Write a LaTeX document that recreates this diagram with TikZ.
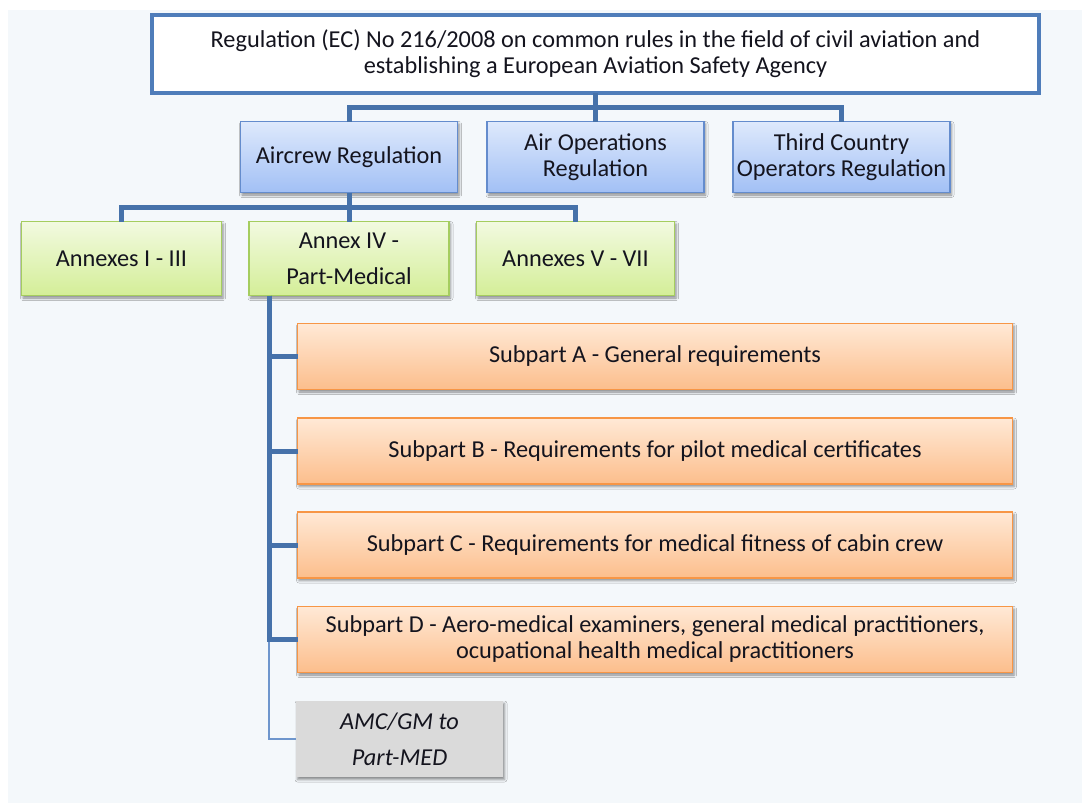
\documentclass[tikz,border=0pt]{standalone}
\usepackage{fontspec}
\setmainfont{Carlito}
\usetikzlibrary{shadows.blur,calc}
\definecolor{bgc}{RGB}{244,248,251}
\definecolor{lineblue}{RGB}{70,114,170}
\definecolor{thinblue}{RGB}{110,150,205}
\definecolor{topborder}{RGB}{79,125,186}
\definecolor{blueborder}{RGB}{100,140,205}
\definecolor{bluetop}{RGB}{222,233,252}
\definecolor{bluebot}{RGB}{162,192,245}
\definecolor{greenborder}{RGB}{165,205,95}
\definecolor{greentop}{RGB}{242,250,224}
\definecolor{greenbot}{RGB}{212,238,152}
\definecolor{orangeborder}{RGB}{247,150,70}
\definecolor{orangetop}{RGB}{255,233,214}
\definecolor{orangebot}{RGB}{252,190,140}
\definecolor{grayfill}{RGB}{218,218,218}
\definecolor{txt}{RGB}{20,20,30}
\tikzset{
  x=1pt,y=-1pt,
  base/.style={rectangle, inner sep=0pt, outer sep=0pt, align=center, text=txt,
    font=\fontsize{24.3}{26}\selectfont},
  shad/.style={blur shadow={shadow xshift=1.5pt, shadow yshift=-2.5pt, shadow blur radius=2.5pt, shadow opacity=45}},
  topbox/.style={base, draw=topborder, line width=4.5pt, fill=white},
  bluebox/.style={base, shad, draw=blueborder, line width=1.4pt, top color=bluetop, bottom color=bluebot},
  greenbox/.style={base, shad, draw=greenborder, line width=1.4pt, top color=greentop, bottom color=greenbot},
  orangebox/.style={base, shad, draw=orangeborder, line width=1.4pt, top color=orangetop, bottom color=orangebot},
  graybox/.style={base, shad, fill=grayfill, font=\fontsize{24.3}{36}\selectfont\itshape},
  conn/.style={draw=lineblue, line width=5pt, line join=miter},
  thinconn/.style={draw=thinblue, line width=1.8pt},
}
\begin{document}
\begin{tikzpicture}
\useasboundingbox (0,0) rectangle (1082,803);
\fill[white] (0,0) rectangle (1082,803);
\fill[bgc] (8,10) rectangle (1082,803);

\node[topbox, minimum width=887, minimum height=78] (top) at (595.5,54)
  {Regulation (EC) No 216/2008 on common rules in the field of civil aviation and\\establishing a European Aviation Safety Agency};

\node[bluebox, minimum width=217, minimum height=71] (air) at (349,157) {Aircrew Regulation};
\node[bluebox, minimum width=217, minimum height=71] (ops) at (595.5,157) {Air Operations\\Regulation};
\node[bluebox, minimum width=217, minimum height=71] (tc) at (841.5,157) {Third Country\\Operators Regulation};

\node[greenbox, minimum width=200, minimum height=74] (a13) at (121.5,258.5) {Annexes I - III};
\node[greenbox, minimum width=200, minimum height=74, font=\fontsize{24.3}{36}\selectfont] (a4) at (349,258.5) {Annex IV -\\Part-Medical};
\node[greenbox, minimum width=198, minimum height=74] (a57) at (575.5,258.5) {Annexes V - VII};

\node[orangebox, minimum width=715, minimum height=66] (sa) at (655,356.5) {Subpart A - General requirements};
\node[orangebox, minimum width=715, minimum height=66] (sb) at (655,451) {Subpart B - Requirements for pilot medical certificates};
\node[orangebox, minimum width=715, minimum height=66] (sc) at (655,545) {Subpart C - Requirements for medical fitness of cabin crew};
\node[orangebox, minimum width=715, minimum height=66] (sd) at (655,639.5) {Subpart D - Aero-medical examiners, general medical practitioners,\\ocupational health medical practitioners};

\node[graybox, minimum width=207, minimum height=76] (gm) at (399.5,739) {AMC/GM to\\Part-MED};

% connectors level 1
\draw[conn] (top.south) -- (ops.north);
\draw[conn] (air.north) -- ++(0,-14) -| (tc.north);
% connectors level 2
\draw[conn] (air.south) -- (a4.north);
\draw[conn] (a13.north) -- ++(0,-14) -| (a57.north);
% part-medical spine
\coordinate (sp) at ([xshift=20pt]a4.south west);
\draw[thinconn] (sp |- sd.west) |- (gm.west);
\draw[conn] (sp) |- (sa.west);
\draw[conn] (sp) |- (sb.west);
\draw[conn] (sp) |- (sc.west);
\draw[conn] (sp) |- (sd.west);
\end{tikzpicture}
\end{document}
